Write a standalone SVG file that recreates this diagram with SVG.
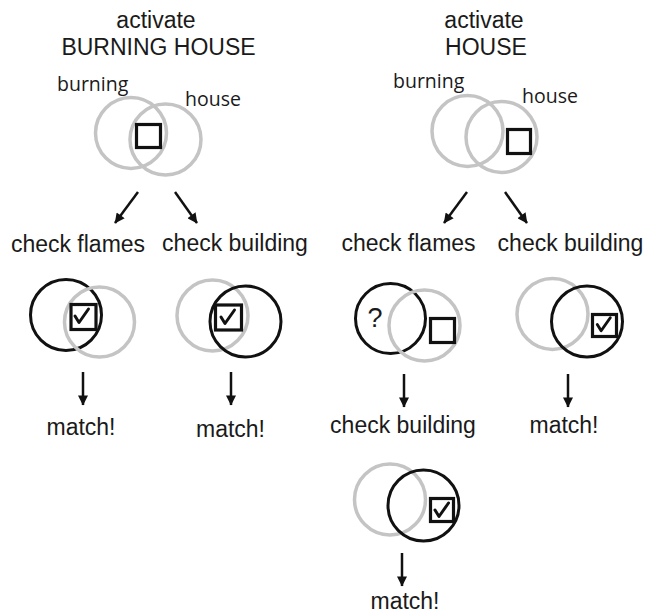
<svg xmlns="http://www.w3.org/2000/svg" width="646" height="615" viewBox="0 0 646 615">
<defs>
<style>
.t{font-family:"Liberation Sans",Arial,sans-serif;font-size:23px;fill:#1a1a1a;text-anchor:middle}
.l{font-family:"Open Sans","Noto Sans",sans-serif;font-size:19.5px;fill:#1a1a1a}
.g{fill:none;stroke:#c4c4c4;stroke-width:3.5}
.k{fill:none;stroke:#111;stroke-width:3}
.sq{fill:none;stroke:#111;stroke-width:3.2}
.ck{fill:none;stroke:#111;stroke-width:3;stroke-linecap:round;stroke-linejoin:round}
.a{stroke:#111;stroke-width:2.5;fill:none;marker-end:url(#ah)}
</style>
<marker id="ah" viewBox="0 0 10 10" refX="9.5" refY="5" markerWidth="4.4" markerHeight="4" orient="auto" markerUnits="strokeWidth">
<path d="M0,0 L10,5 L0,10 Z" fill="#111"/>
</marker>
<symbol id="chk" viewBox="0 0 27 27" overflow="visible">
<path class="ck" d="M6,13 L10,19.5 L19.5,6"/>
</symbol>
</defs>
<rect width="646" height="615" fill="#fff"/>

<g id="title-left">
<text class="t" x="156" y="28">activate</text>
<text class="t" x="158.5" y="55">BURNING HOUSE</text>
</g>
<g id="title-right">
<text class="t" x="484" y="28">activate</text>
<text class="t" x="486" y="55">HOUSE</text>
</g>

<g id="venn-burning-house">
<text class="l" x="57" y="91">burning</text>
<text class="l" x="185" y="106">house</text>
<circle class="g" cx="131" cy="133" r="35.5"/>
<circle class="g" cx="165.5" cy="139.5" r="35.5"/>
<rect class="sq" x="136.5" y="124.5" width="24" height="23"/>
</g>

<g id="venn-house">
<text class="l" x="393" y="88">burning</text>
<text class="l" x="522" y="103">house</text>
<circle class="g" cx="467.5" cy="131" r="35.5"/>
<circle class="g" cx="501.5" cy="137" r="35.5"/>
<rect class="sq" x="507.5" y="129.5" width="23" height="24"/>
</g>

<g id="connectors">
<line class="a" x1="138" y1="192" x2="115" y2="223"/>
<line class="a" x1="175" y1="192" x2="197" y2="223"/>
<line class="a" x1="467" y1="192" x2="444" y2="223"/>
<line class="a" x1="505" y1="192" x2="527" y2="223"/>
<line class="a" x1="83" y1="372" x2="83" y2="405"/>
<line class="a" x1="231" y1="372" x2="231" y2="405"/>
<line class="a" x1="404" y1="374" x2="404" y2="407"/>
<line class="a" x1="568" y1="374" x2="568" y2="407"/>
<line class="a" x1="402" y1="553" x2="402" y2="586"/>
</g>

<g id="check-flames-1">
<text class="t" x="78" y="252">check flames</text>
<circle class="k" cx="66" cy="315" r="35.5"/>
<circle class="g" cx="99.5" cy="322" r="35"/>
<rect class="sq" x="71" y="304.5" width="25" height="25"/>
<use href="#chk" x="69" y="303" width="27" height="27"/>
</g>
<g id="match-1">
<text class="t" x="81" y="435">match!</text>
</g>

<g id="check-building-1">
<text class="t" x="235" y="251">check building</text>
<circle class="g" cx="212.5" cy="315.5" r="35.5"/>
<circle class="k" cx="245.5" cy="321.5" r="35.5"/>
<rect class="sq" x="215.5" y="305" width="26" height="25"/>
<use href="#chk" x="215" y="304" width="27" height="27"/>
</g>
<g id="match-2">
<text class="t" x="230.5" y="437">match!</text>
</g>

<g id="check-flames-2">
<text class="t" x="408.5" y="251">check flames</text>
<circle class="k" cx="390.5" cy="318.5" r="35"/>
<circle class="g" cx="424.5" cy="325.5" r="35.5"/>
<rect class="sq" x="430.5" y="318.5" width="24" height="24"/>
<text class="t" x="375" y="327" style="font-size:27px">?</text>
</g>
<g id="check-building-2">
<text class="t" x="403" y="433">check building</text>
<circle class="g" cx="390" cy="499.5" r="35.5"/>
<circle class="k" cx="423.5" cy="505.5" r="35.5"/>
<rect class="sq" x="430.5" y="498.5" width="23" height="23"/>
<use href="#chk" x="429" y="497" width="27" height="27"/>
</g>
<g id="match-4">
<text class="t" x="405" y="609">match!</text>
</g>

<g id="check-building-3">
<text class="t" x="570.5" y="251">check building</text>
<circle class="g" cx="552.5" cy="314" r="35.5"/>
<circle class="k" cx="587" cy="321.5" r="35.5"/>
<rect class="sq" x="592.5" y="314.5" width="24" height="22"/>
<use href="#chk" x="591" y="312" width="27" height="26"/>
</g>
<g id="match-3">
<text class="t" x="564" y="433">match!</text>
</g>
</svg>
